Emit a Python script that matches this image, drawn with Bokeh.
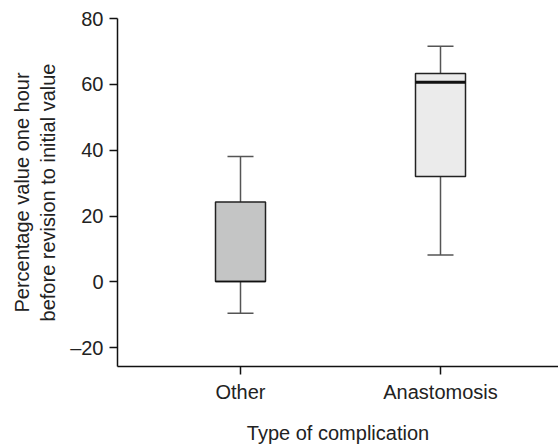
from bokeh.plotting import figure
from bokeh.models import Range1d, FixedTicker, ColumnDataSource
from bokeh.embed import file_html
from bokeh.resources import INLINE

categories = ["Other", "Anastomosis"]
lower_whisker = [-9.5, 8.2]
q1 = [0.1, 32.0]
median = [0.1, 60.6]
q3 = [24.3, 63.3]
upper_whisker = [38.1, 71.6]
fill_colors = ["#c4c5c5", "#ebebeb"]
median_widths = [1.5, 3]
y_ticks = [-20, 0, 20, 40, 60, 80]

xs = [i + 1 for i in range(len(categories))]
box_w = 0.25
cap_w = 0.13

src = ColumnDataSource(dict(
    x=xs, lo=lower_whisker, q1=q1, med=median, q3=q3, hi=upper_whisker,
    fill=fill_colors, mw=median_widths,
    bl=[x - box_w / 2 for x in xs], br=[x + box_w / 2 for x in xs],
    cl=[x - cap_w / 2 for x in xs], cr=[x + cap_w / 2 for x in xs],
))

p = figure(width=558, height=446, output_backend="svg", toolbar_location=None,
           x_range=Range1d(0.385, 2.59), y_range=Range1d(-25.7, 80),
           min_border_left=117, min_border_right=0, min_border_top=18, min_border_bottom=78)
p.outline_line_color = None
p.grid.visible = False
p.background_fill_color = "white"

whisk_color = "#555555"
p.segment(x0="x", y0="q3", x1="x", y1="hi", source=src, line_color=whisk_color, line_width=1.5)
p.segment(x0="x", y0="q1", x1="x", y1="lo", source=src, line_color=whisk_color, line_width=1.5)
p.segment(x0="cl", y0="hi", x1="cr", y1="hi", source=src, line_color=whisk_color, line_width=1.5)
p.segment(x0="cl", y0="lo", x1="cr", y1="lo", source=src, line_color=whisk_color, line_width=1.5)
p.vbar(x="x", width=box_w, bottom="q1", top="q3", source=src, fill_color="fill",
       line_color="#222222", line_width=1.5)
p.segment(x0="bl", y0="med", x1="br", y1="med", source=src, line_color="#111111", line_width="mw")

font = "Liberation Sans"
p.yaxis.ticker = FixedTicker(ticks=y_ticks)
p.yaxis.major_label_overrides = {t: (("\u2013" + str(-t)) if t < 0 else str(t)) for t in y_ticks}
p.xaxis.ticker = FixedTicker(ticks=xs)
p.xaxis.major_label_overrides = {x: c for x, c in zip(xs, categories)}
for ax in (p.xaxis, p.yaxis):
    ax.axis_line_color = "#111111"
    ax.axis_line_width = 1.5
    ax.major_tick_line_color = "#111111"
    ax.major_tick_line_width = 1.5
    ax.major_tick_in = 0
    ax.major_tick_out = 8
    ax.minor_tick_line_color = None
    ax.major_label_text_font = font
    ax.major_label_text_font_size = "20px"
    ax.major_label_text_color = "#222222"
    ax.axis_label_text_font = font
    ax.axis_label_text_font_size = "20px"
    ax.axis_label_text_font_style = "normal"
    ax.axis_label_text_color = "#222222"
p.xaxis.major_label_standoff = 6
p.yaxis.major_label_standoff = 6
p.xaxis.axis_label = "Type of complication"
p.xaxis.axis_label_standoff = 16
p.yaxis.axis_label = "Percentage value one hour\nbefore revision to initial value"
p.yaxis.axis_label_standoff = 8

open("out.html", "w").write(file_html(p, INLINE))
